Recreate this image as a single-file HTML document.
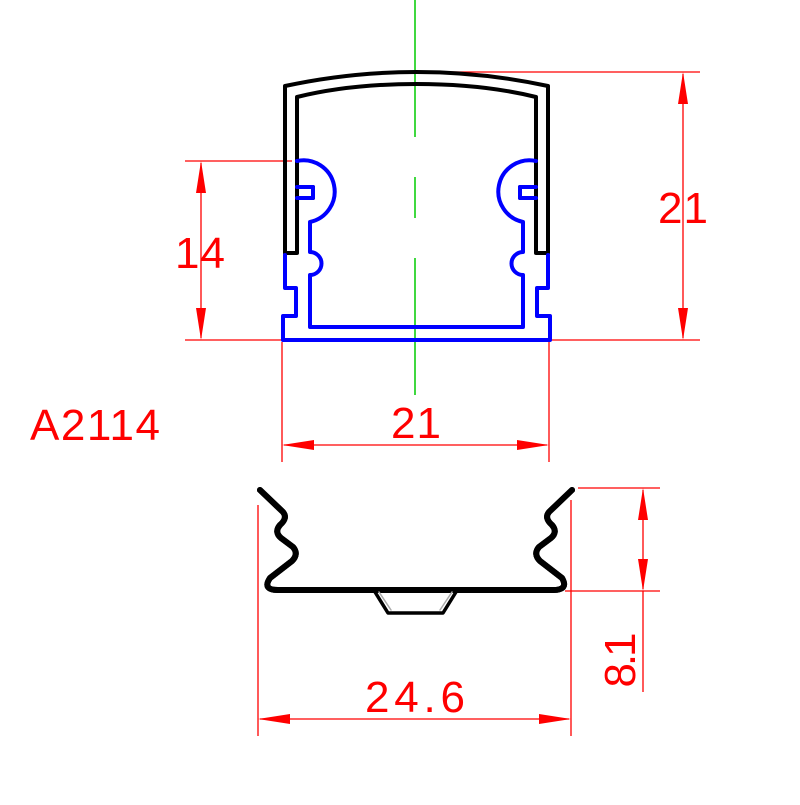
<!DOCTYPE html>
<html><head><style>html,body{margin:0;padding:0;background:#fff}</style></head>
<body>
<svg width="800" height="800" viewBox="0 0 800 800" xmlns="http://www.w3.org/2000/svg">
<rect width="800" height="800" fill="#fff"/>
<defs>
<marker id="a" markerWidth="10" markerHeight="30" refX="0" refY="5" orient="auto" markerUnits="userSpaceOnUse" viewBox="0 0 34 10">
<path d="M0,5 L34,0 L34,10 Z" fill="#f00"/></marker>
</defs>
<!-- green centre line -->
<g stroke="#0c0" stroke-width="1.5">
<line x1="415" y1="0" x2="415" y2="137"/>
<line x1="415" y1="177" x2="415" y2="218"/>
<line x1="415" y1="258" x2="415" y2="395"/>
</g>
<!-- red extension lines -->
<g stroke="#f00" stroke-width="1.3" fill="none">
<line x1="423" y1="72" x2="700" y2="72"/>
<line x1="423" y1="340" x2="700" y2="340"/>
<line x1="185" y1="340" x2="282" y2="340"/>
<line x1="185" y1="161" x2="292" y2="161"/>
<line x1="282" y1="342" x2="282" y2="462"/>
<line x1="549" y1="342" x2="549" y2="462"/>
<line x1="258" y1="505" x2="258" y2="736"/>
<line x1="571" y1="500" x2="571" y2="736"/>
<line x1="578" y1="488" x2="660" y2="488"/>
<line x1="565" y1="591" x2="660" y2="591"/>
<line x1="643" y1="591" x2="643" y2="692"/>
</g>
<g stroke="#f00" stroke-width="1.3">
<line x1="683" y1="74" x2="683" y2="338"/>
<line x1="201" y1="163" x2="201" y2="338"/>
<line x1="284" y1="445" x2="547" y2="445"/>
<line x1="260" y1="719" x2="569" y2="719"/>
<line x1="643" y1="490" x2="643" y2="589"/>
</g>
<g fill="#f00">
<path d="M683,72 l-5,32 h10z"/><path d="M683,340 l-5,-32 h10z"/>
<path d="M201,161 l-5,32 h10z"/><path d="M201,340 l-5,-32 h10z"/>
<path d="M282,445 l32,-5 v10z"/><path d="M549,445 l-32,-5 v10z"/>
<path d="M258,719 l32,-5 v10z"/><path d="M571,719 l-32,-5 v10z"/>
<path d="M643,488 l-5,32 h10z"/><path d="M643,591 l-5,-32 h10z"/>
</g>
<g fill="#f00" font-family="Liberation Sans, sans-serif" font-size="44" font-weight="normal">
<text x="683" y="223" text-anchor="middle" textLength="50">21</text>
<text x="200" y="268" text-anchor="middle" textLength="50">14</text>
<text x="416" y="438" text-anchor="middle" textLength="50">21</text>
<text x="30" y="440" textLength="130">A2114</text>
<text x="415" y="712" text-anchor="middle" textLength="100">24.6</text>
<text transform="translate(635,660) rotate(-90)" text-anchor="middle" textLength="55">8.1</text>
</g>
<!-- top profile -->
<g id="half" fill="none" stroke-linejoin="round" stroke-linecap="round" stroke-width="4">
<path stroke="#000" d="M285,253 V86 Q350,72 416.5,72 M297,253 V187 H313 V198 H297 M297,186 V97 Q350,84 416.5,84 M285,253 H297"/>
<path stroke="#00f" d="M297,161 A31,31 0 0 1 310,222 V252 A11,11 0 0 1 310,275 V327 H416.5 M285,255 V288 H296 V316 H283 V340 H416.5 M297,187 H313 V198 H297"/>
</g>
<use href="#half" transform="translate(833,0) scale(-1,1)"/>
<!-- bottom profile -->
<g fill="none" stroke-linejoin="round" stroke-linecap="round">
<path id="bp" d="M260,490 L283,512 Q288,518 280,525 Q274,532 281,538 L293,547 Q299,554 292,561 L270,578 Q262,590 278,590 H553 Q569,590 562,578 L540,561 Q533,554 539,547 L551,538 Q558,532 552,525 Q544,518 549,512 L572,490" stroke="#000" stroke-width="6"/>
<use href="#bp" stroke="#fff" stroke-width="1.5"/>
<path d="M375,592 L388,613 H443 L456,592" stroke="#000" stroke-width="3.5"/>
<path d="M379,592 L391,610 M452,592 L440,610" stroke="#aaa" stroke-width="1.5"/>
</g>
</svg>
</body></html>
